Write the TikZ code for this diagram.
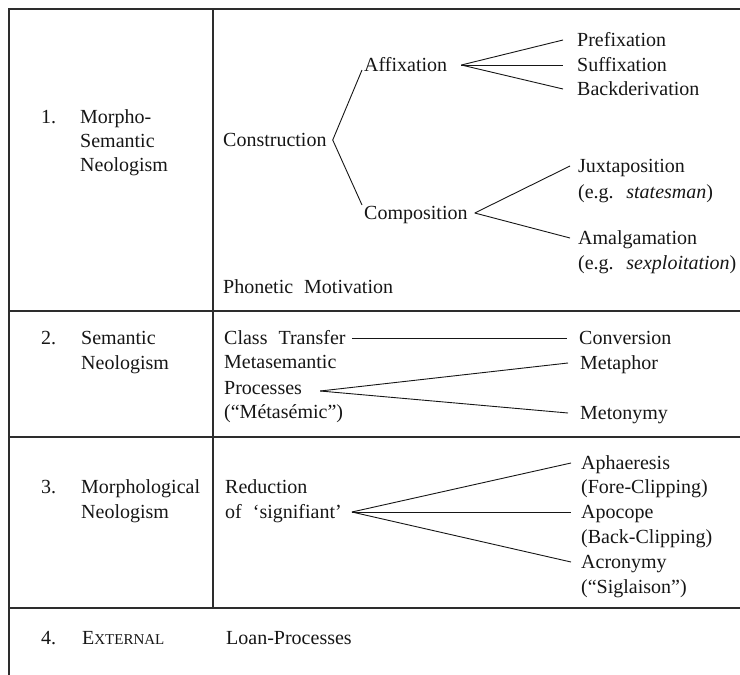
\documentclass[tikz,border=0pt]{standalone}
\usepackage{fontspec}
\setmainfont[WordSpace=2.2]{Liberation Serif}
\usetikzlibrary{positioning}
\definecolor{NeoInk}{RGB}{22,22,22}
\definecolor{NeoRule}{RGB}{45,45,45}
\tikzset{
  neo/cell/.style={
    anchor=west,
    inner sep=0pt,
    text height=15pt,
    text depth=3pt,
    text=NeoInk,
    font=\fontsize{20}{24}\selectfont
  },
  neo/link/.style={draw=NeoInk, line width=0.9pt},
  neo/rule/.style={draw=NeoRule, line width=1.3pt}
}

\begin{document}
\begin{tikzpicture}[x=1pt,y=-1pt]
  \useasboundingbox (0,0) rectangle (740,675);
  % table rules
  \draw[neo/rule] (9,675) -- (9,9) -- (740,9);
  \draw[neo/rule] (9,311) -- (740,311);
  \draw[neo/rule] (9,437) -- (740,437);
  \draw[neo/rule] (9,608) -- (740,608);
  \draw[neo/rule] (213,9) -- (213,608);

  % row 1
  \node[neo/cell] (n1) at (41,117) {1.};
  \node[neo/cell] (ms1) at (80,117) {Morpho-};
  \node[neo/cell] (ms2) at (80,141) {Semantic};
  \node[neo/cell] (ms3) at (80,165) {Neologism};
  \node[neo/cell] (constr) at (223,140) {Construction};
  \node[neo/cell] (affix) at (364,65) {Affixation};
  \node[neo/cell] (comp) at (364,213) {Composition};
  \node[neo/cell] (phon) at (223,287) {Phonetic Motivation};
  \node[neo/cell] (pre) at (577,40) {Prefixation};
  \node[neo/cell] (suf) at (577,65) {Suffixation};
  \node[neo/cell] (back) at (577,89) {Backderivation};
  \node[neo/cell] (jux) at (578,166) {Juxtaposition};
  \node[neo/cell] (jux-eg) at (578,192) {(e.g. \textit{statesman})};
  \node[neo/cell] (amal) at (578,238) {Amalgamation};
  \node[neo/cell] (amal-eg) at (578,263) {(e.g. \textit{sexploitation})};

  \draw[neo/link] ([xshift=-2pt,yshift=-5pt]affix.west) -- ([xshift=6pt]constr.east)
    -- ([xshift=-2pt,yshift=8pt]comp.west);
  \foreach \t in {pre,suf,back}
    \draw[neo/link] ([xshift=14pt]affix.east) -- ([xshift=-14pt]\t.west);
  \foreach \t in {jux,amal}
    \draw[neo/link] ([xshift=7pt]comp.east) -- ([xshift=-8pt]\t.west);

  % row 2
  \node[neo/cell] (n2) at (41,338) {2.};
  \node[neo/cell] (sem1) at (81,338) {Semantic};
  \node[neo/cell] (sem2) at (81,363) {Neologism};
  \node[neo/cell] (cls) at (224,338) {Class Transfer};
  \node[neo/cell] (meta1) at (224,362) {Metasemantic};
  \node[neo/cell] (meta2) at (224,388) {Processes};
  \node[neo/cell] (meta3) at (224,412) {(“Métasémic”)};
  \node[neo/cell] (conv) at (579,338) {Conversion};
  \node[neo/cell] (metaph) at (580,363) {Metaphor};
  \node[neo/cell] (meton) at (580,413) {Metonymy};

  \draw[neo/link] ([xshift=6pt]cls.east) -- ([xshift=-12pt]conv.west);
  \foreach \t in {metaph,meton}
    \draw[neo/link] ([xshift=18pt,yshift=-3pt]meta2.east) -- ([xshift=-12pt]\t.west);

  % row 3
  \node[neo/cell] (n3) at (41,487) {3.};
  \node[neo/cell] (mor1) at (81,487) {Morphological};
  \node[neo/cell] (mor2) at (81,512) {Neologism};
  \node[neo/cell] (red1) at (225,487) {Reduction};
  \node[neo/cell] (red2) at (225,512) {of ‘signifiant’};
  \node[neo/cell] (aph) at (581,463) {Aphaeresis};
  \node[neo/cell] (aph-eg) at (581,487) {(Fore-Clipping)};
  \node[neo/cell] (apo) at (581,512) {Apocope};
  \node[neo/cell] (apo-eg) at (581,537) {(Back-Clipping)};
  \node[neo/cell] (acr) at (581,562) {Acronymy};
  \node[neo/cell] (acr-eg) at (581,587) {(“Siglaison”)};

  \foreach \t in {aph,apo,acr}
    \draw[neo/link] ([xshift=10pt]red2.east) -- ([xshift=-10pt]\t.west);

  % row 4
  \node[neo/cell] (n4) at (41,638) {4.};
  \node[neo/cell] (ext) at (82,638) {E{\fontsize{15}{15}\selectfont XTERNAL}};
  \node[neo/cell] (loan) at (226,638) {Loan-Processes};
\end{tikzpicture}
\end{document}
